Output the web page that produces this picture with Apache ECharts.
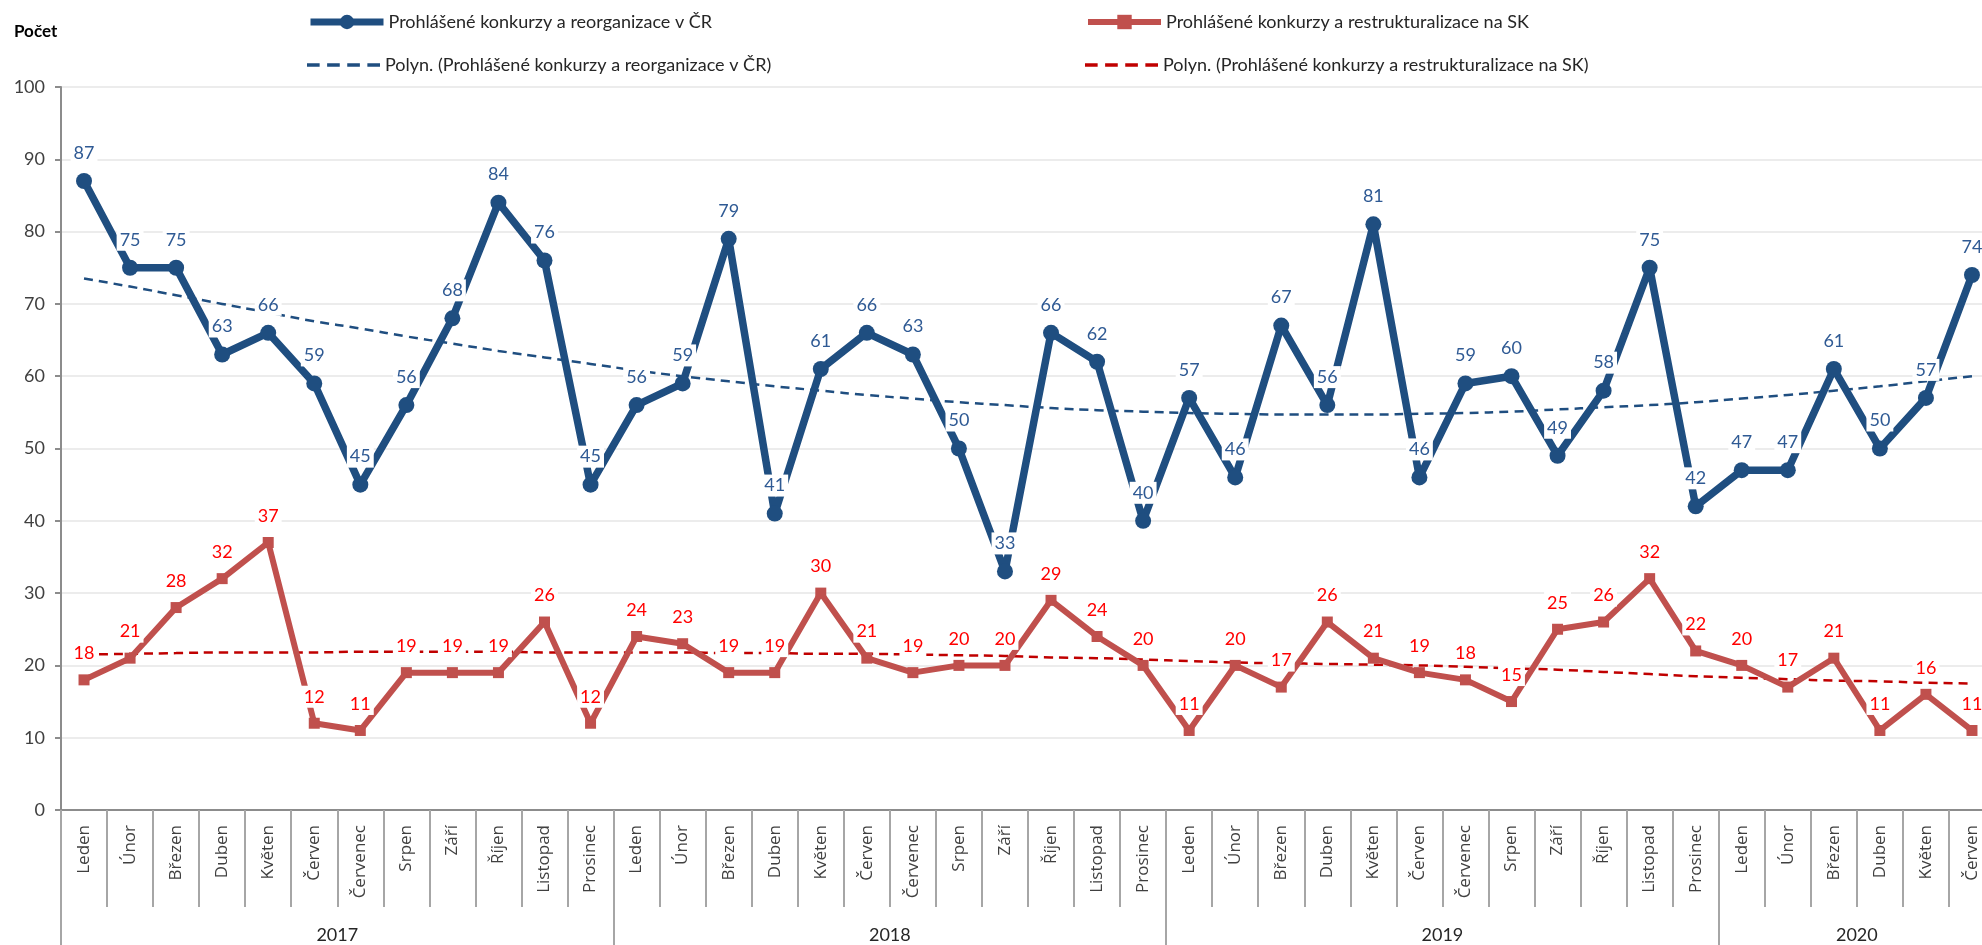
<!DOCTYPE html>
<html>
<head>
<meta charset="utf-8">
<script src="https://cdn.jsdelivr.net/npm/echarts@6/dist/echarts.min.js"></script>
<style>
  html, body { margin: 0; padding: 0; background: #fff; }
  #chart { width: 1982px; height: 945px; }
</style>
</head>
<body>
<div id="chart"></div>
<script>
var months = ['Leden', 'Únor', 'Březen', 'Duben', 'Květen', 'Červen', 'Červenec', 'Srpen', 'Září', 'Říjen', 'Listopad', 'Prosinec']
var years = ['2017', '2018', '2019', '2020']
var monthsPerYear = [12, 12, 12, 6]

var nameCZ = 'Prohlášené konkurzy a reorganizace v ČR'
var nameSK = 'Prohlášené konkurzy a restrukturalizace na SK'
var nameCZTrend = 'Polyn. (Prohlášené konkurzy a reorganizace v ČR)'
var nameSKTrend = 'Polyn. (Prohlášené konkurzy a restrukturalizace na SK)'

var cz = [
  87, 75, 75, 63, 66, 59, 45, 56, 68, 84, 76, 45,
  56, 59, 79, 41, 61, 66, 63, 50, 33, 66, 62, 40,
  57, 46, 67, 56, 81, 46, 59, 60, 49, 58, 75, 42,
  47, 47, 61, 50, 57, 74
]
var sk = [
  18, 21, 28, 32, 37, 12, 11, 19, 19, 19, 26, 12,
  24, 23, 19, 19, 30, 21, 19, 20, 20, 29, 24, 20,
  11, 20, 17, 26, 21, 19, 18, 15, 25, 26, 32, 22,
  20, 17, 21, 11, 16, 11
]
// trend lines
var czTrend = [
  73.5, 72.4, 71.2, 70.0, 68.8, 67.6, 66.6, 65.5, 64.5, 63.5, 62.6, 61.7,
  60.8, 60.0, 59.3, 58.6, 58.0, 57.4, 56.9, 56.4, 56.0, 55.6, 55.3, 55.1,
  54.9, 54.8, 54.7, 54.7, 54.7, 54.8, 54.9, 55.1, 55.4, 55.7, 56.0, 56.4,
  56.9, 57.4, 58.0, 58.6, 59.3, 60.0
]
var skTrend = [
  21.5, 21.6, 21.7, 21.8, 21.8, 21.8, 21.9, 21.9, 21.9, 21.9, 21.8, 21.8,
  21.8, 21.8, 21.7, 21.7, 21.6, 21.6, 21.5, 21.4, 21.3, 21.1, 21.0, 20.8,
  20.6, 20.4, 20.3, 20.2, 20.1, 20.0, 19.8, 19.6, 19.4, 19.1, 18.8, 18.5,
  18.3, 18.1, 17.9, 17.8, 17.6, 17.5
]

var categories = []
years.forEach(function (y, i) {
  for (var j = 0; j < monthsPerYear[i]; j++) categories.push(months[j])
})
// year boundaries and year label centres on a 0..n value scale
var yearTicks = [], yearCenters = [], acc = 0
monthsPerYear.forEach(function (n) {
  yearTicks.push(acc)
  yearCenters.push(acc + n / 2)
  acc += n
})

var dashIcon = 'path://M0,0h11v3h-11z M17.5,0h11v3h-11z M35,0h11v3h-11z M52.5,0h11v3h-11z'
var legendText = { fontFamily: 'Lato', fontSize: 18, color: '#262626' }

var chartDom = document.getElementById('chart')
var myChart = echarts.init(chartDom, null, { renderer: 'canvas' })

var option = {
  backgroundColor: '#fff',
  animation: false,
  title: {
    text: 'Počet',
    left: 14,
    top: 23,
    padding: 0,
    textStyle: { fontFamily: 'Lato', fontSize: 17, fontWeight: 'bold', color: '#000' }
  },
  legend: [
    { data: [nameCZ], left: 307, top: 13, padding: 0, itemWidth: 73, itemHeight: 18, selectedMode: false, textStyle: legendText, lineStyle: { width: 7 } },
    { data: [nameSK], left: 1085, top: 13, padding: 0, itemWidth: 73, itemHeight: 18, selectedMode: false, textStyle: legendText, lineStyle: { width: 6 } },
    { data: [{ name: nameCZTrend, icon: dashIcon }], left: 307, top: 56, padding: 0, itemWidth: 73, itemHeight: 18, selectedMode: false, textStyle: legendText },
    { data: [{ name: nameSKTrend, icon: dashIcon }], left: 1085, top: 56, padding: 0, itemWidth: 73, itemHeight: 18, selectedMode: false, textStyle: legendText }
  ],
  grid: {
    left: 61,
    top: 87,
    width: 1934,
    height: 723,
    outerBoundsMode: 'none',
    containLabel: false
  },
  xAxis: [
    {
      type: 'category',
      data: categories,
      boundaryGap: true,
      axisLine: { lineStyle: { color: '#8c8c8c', width: 2 } },
      axisTick: { show: true, interval: 0, length: 97, lineStyle: { color: '#a6a6a6', width: 2 } },
      axisLabel: {
        interval: 0,
        rotate: 90,
        margin: 15,
        fontFamily: 'Open Sans',
        fontSize: 17,
        color: '#404040'
      },
      splitLine: { show: false }
    },
    {
      type: 'value',
      min: 0,
      max: categories.length,
      position: 'bottom',
      axisLine: { show: false },
      splitLine: { show: false },
      axisTick: { show: true, customValues: yearTicks, length: 135, lineStyle: { color: '#a6a6a6', width: 2 } },
      axisLabel: {
        customValues: yearCenters,
        margin: 116,
        fontFamily: 'Lato',
        fontSize: 18,
        color: '#262626',
        formatter: function (v) {
          var i = yearCenters.indexOf(v)
          return i >= 0 ? years[i] : ''
        }
      }
    }
  ],
  yAxis: {
    type: 'value',
    min: 0,
    max: 100,
    interval: 10,
    axisLine: { show: true, lineStyle: { color: '#8c8c8c', width: 2 } },
    axisTick: { show: true, length: 6, lineStyle: { color: '#8c8c8c', width: 2 } },
    axisLabel: { margin: 16, fontFamily: 'Lato', fontSize: 18, color: '#404040' },
    splitLine: { show: true, lineStyle: { color: '#ececec', width: 2 } }
  },
  series: [
    {
      name: nameCZTrend,
      type: 'line',
      data: czTrend,
      smooth: true,
      symbol: 'none',
      silent: true,
      z: 2,
      itemStyle: { color: '#1f4e80' },
      lineStyle: { color: '#1f4e80', width: 2.5, type: [9, 6] }
    },
    {
      name: nameSKTrend,
      type: 'line',
      data: skTrend,
      smooth: true,
      symbol: 'none',
      silent: true,
      z: 2,
      itemStyle: { color: '#c00000' },
      lineStyle: { color: '#c00000', width: 2.5, type: [9, 6] }
    },
    {
      name: nameCZ,
      type: 'line',
      data: cz,
      symbol: 'circle',
      symbolSize: 16,
      z: 3,
      itemStyle: { color: '#1f4e80' },
      lineStyle: { color: '#1f4e80', width: 7.5 },
      label: {
        show: true,
        position: 'top',
        distance: 9,
        fontFamily: 'Lato',
        fontSize: 18,
        lineHeight: 20,
        color: '#2f5a94',
        backgroundColor: '#fff',
        padding: [1, 3]
      }
    },
    {
      name: nameSK,
      type: 'line',
      data: sk,
      symbol: 'rect',
      symbolSize: 11,
      z: 3,
      itemStyle: { color: '#c0504d' },
      lineStyle: { color: '#c0504d', width: 6 },
      label: {
        show: true,
        position: 'top',
        distance: 10,
        fontFamily: 'Lato',
        fontSize: 18,
        lineHeight: 20,
        color: '#ff0000',
        backgroundColor: '#fff',
        padding: [1, 3]
      }
    }
  ]
}

myChart.setOption(option)
</script>
</body>
</html>
